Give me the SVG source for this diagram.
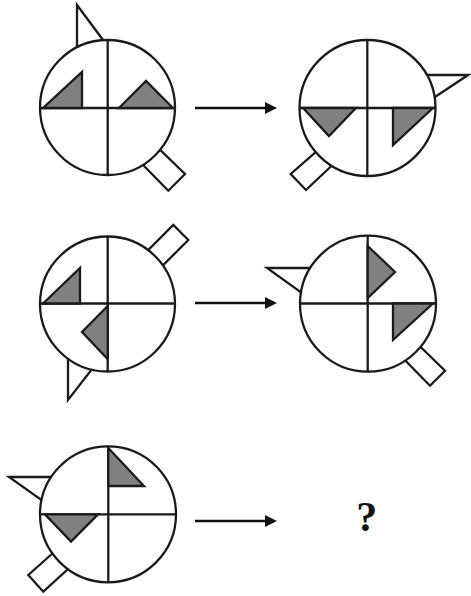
<svg xmlns="http://www.w3.org/2000/svg" width="471" height="596" viewBox="0 0 471 596">
<style>
.ol{fill:#fff;stroke:#1a1a1a;stroke-width:2.3;stroke-linejoin:miter}
.ln{stroke:#1a1a1a;stroke-width:2.3;fill:none}
.tri{fill:#808080;stroke:#1a1a1a;stroke-width:2.3;stroke-linejoin:miter}
.arr{stroke:#111;stroke-width:2.3;fill:none}
.q{font-family:'Liberation Serif',serif;font-weight:bold;font-size:42px;fill:#111}
</style>
<defs>
<marker id="ah" markerUnits="userSpaceOnUse" markerWidth="12" markerHeight="12" refX="0" refY="6" orient="auto">
<path d="M0,0 L12,6 L0,12 z" fill="#111"/>
</marker>
</defs>
<rect width="471" height="596" fill="#fff"/>

<g id="fig1">
<polygon class="ol" points="77,5 106,44 77,60"/>
<polygon class="ol" points="153.2,143.2 185,174 168.3,190.7 136.5,158.2"/>
<circle class="ol" cx="107.5" cy="107.5" r="67.5"/>
<line class="ln" x1="40" y1="108" x2="175" y2="108"/>
<line class="ln" x1="107.7" y1="40" x2="107.7" y2="175"/>
<polygon class="tri" points="43,108 82,72 82,108"/>
<polygon class="tri" points="119,108 146,81 173,108"/>
</g>

<g id="fig2">
<polygon class="ol" points="420,75 468,75 429,101"/>
<polygon class="ol" points="324,144.8 290.7,174 306,190 339,158.8"/>
<circle class="ol" cx="367.5" cy="108" r="68"/>
<line class="ln" x1="299.5" y1="108" x2="435.5" y2="108"/>
<line class="ln" x1="367.3" y1="40" x2="367.3" y2="176"/>
<polygon class="tri" points="303,108 356,108 329,136"/>
<polygon class="tri" points="393,108 433,108 393,145"/>
</g>

<g id="fig3">
<polygon class="ol" points="68,352 68,400 96,364"/>
<polygon class="ol" points="141.5,256.8 173.3,225 188.3,240 156.5,271.8"/>
<circle class="ol" cx="107.5" cy="304" r="67.5"/>
<line class="ln" x1="40" y1="303.5" x2="175" y2="303.5"/>
<line class="ln" x1="107.7" y1="236.5" x2="107.7" y2="371.5"/>
<polygon class="tri" points="43,303.5 80,268 80,303.5"/>
<polygon class="tri" points="107.7,306 82,332 107.7,359"/>
</g>

<g id="fig4">
<polygon class="ol" points="267,268 316,268 306,296"/>
<polygon class="ol" points="413.2,339.8 445,370.7 430,385.7 398.2,353.2"/>
<circle class="ol" cx="368" cy="303.7" r="68"/>
<line class="ln" x1="300" y1="303.5" x2="436" y2="303.5"/>
<line class="ln" x1="367.7" y1="235.7" x2="367.7" y2="371.7"/>
<polygon class="tri" points="367.7,246 395,272 367.7,298"/>
<polygon class="tri" points="393,303.5 433,303.5 393,340"/>
</g>

<g id="fig5">
<polygon class="ol" points="9,477 57,477 47,504"/>
<polygon class="ol" points="59.7,547 28.3,575 43.3,591.7 75.7,562"/>
<circle class="ol" cx="108" cy="514.3" r="68"/>
<line class="ln" x1="40" y1="514.3" x2="176" y2="514.3"/>
<line class="ln" x1="108.3" y1="446.3" x2="108.3" y2="582.3"/>
<polygon class="tri" points="108.3,448 144,486 108.3,486"/>
<polygon class="tri" points="45,514.3 98,514.3 71,541.5"/>
</g>

<g id="connectors">
<line class="arr" x1="195" y1="108" x2="265" y2="108" marker-end="url(#ah)"/>
<line class="arr" x1="195" y1="303" x2="265" y2="303" marker-end="url(#ah)"/>
<line class="arr" x1="195" y1="521" x2="265" y2="521" marker-end="url(#ah)"/>
</g>

<g id="question">
<text class="q" x="366.7" y="531" text-anchor="middle">?</text>
</g>
</svg>
